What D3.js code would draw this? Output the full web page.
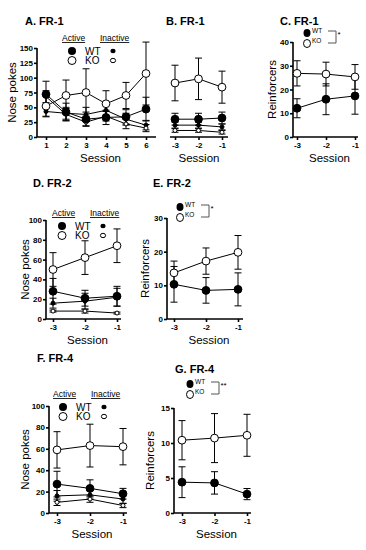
<!DOCTYPE html>
<html>
<head>
<meta charset="utf-8">
<title>FR nose pokes and reinforcers</title>
<style>
  body { margin: 0; background: #fff; }
  text { font-family: "Liberation Sans", Arial, sans-serif; }
</style>
</head>
<body>
<script src="https://cdn.jsdelivr.net/npm/d3@7"></script>
<script>
// ---- data ----
var sessions6 = [1, 2, 3, 4, 5, 6];
var sessions3 = [-3, -2, -1];

// A. FR-1 nose pokes, sessions 1-6
var aWtAct = [72, 42, 30, 33, 34, 47],   aWtActErr = [22, 15, 12, 12, 12, 20];
var aKoAct = [52, 70, 75, 56, 70, 107],  aKoActErr = [18, 26, 40, 22, 22, 53];
var aWtIn  = [43, 40, 38, 45, 30, 20],   aWtInErr  = [8, 10, 12, 10, 10, 8];
var aKoIn  = [68, 38, 25, 35, 22, 15],   aKoInErr  = [10, 10, 6, 8, 8, 6];

// B. FR-1 nose pokes, last 3 sessions
var bWtAct = [30, 30, 32],  bWtActErr = [10, 10, 10];
var bKoAct = [91, 98, 84],  bKoActErr = [30, 35, 27];
var bWtIn  = [20, 20, 17],  bWtInErr  = [5, 5, 5];
var bKoIn  = [11, 11, 8],   bKoInErr  = [3, 3, 3];

// C. FR-1 reinforcers
var cWt = [12.1, 15.9, 17.3], cWtErr = [4, 6.5, 7.7];
var cKo = [26.8, 26.5, 25.3], cKoErr = [5.3, 5, 5.2];

// D. FR-2 nose pokes
var dWtAct = [28, 21, 23],  dWtActErr = [13, 8, 10];
var dKoAct = [50, 62, 74],  dKoActErr = [17, 17, 17];
var dWtIn  = [16, 18, 22],  dWtInErr  = [5, 8, 9];
var dKoIn  = [8, 8, 6],     dKoInErr  = [1, 2, 1];

// E. FR-2 reinforcers
var eWt = [10.3, 8.5, 8.8],  eWtErr = [5.3, 3.8, 4.9];
var eKo = [13.7, 17.2, 19.8], eKoErr = [3.5, 3.9, 5];

// F. FR-4 nose pokes
var fWtAct = [27, 23, 18],  fWtActErr = [12, 8, 5];
var fKoAct = [59, 63, 62],  fKoActErr = [17, 20, 17];
var fWtIn  = [16, 17, 13],  fWtInErr  = [5, 4, 4];
var fKoIn  = [10, 13, 7],   fKoInErr  = [3, 3, 2];

// G. FR-4 reinforcers
var gWt = [4.4, 4.3, 2.7],   gWtErr = [2.2, 1.6, 0.8];
var gKo = [10.4, 10.7, 11.1], gKoErr = [2.8, 3.5, 3];

var ticksA = [0, 25, 50, 75, 100, 125, 150];
var ticksC = [0, 10, 20, 30, 40];
var ticksD = [0, 20, 40, 60, 80, 100];
var ticksE = [0, 10, 20, 30];
var ticksG = [0, 5, 10, 15];

var svg = d3.select("body").append("svg")
  .attr("width", 366)
  .attr("height", 550);

function nosePokeSeries(wa, wae, ka, kae, wi, wie, ki, kie) {
  return [
    {v: wi, e: wie, r: 2, fill: "#000"},
    {v: ki, e: kie, r: 2, fill: "#fff"},
    {v: wa, e: wae, r: 3.9, fill: "#000"},
    {v: ka, e: kae, r: 3.9, fill: "#fff"}
  ];
}

function panel(p) {
  var x = d3.scaleLinear().domain(p.xd).range(p.xr);
  var y = d3.scaleLinear().domain(p.yd).range(p.yr);
  var g = svg.append("g");

  // x axis
  var xa = g.append("g")
    .attr("transform", "translate(0," + p.yr[0] + ")")
    .call(d3.axisBottom(x).tickValues(p.xs).tickSize(3).tickPadding(2)
      .tickFormat(function(d) { return String(d); }));
  xa.select(".domain").attr("d", "M" + p.axX[0] + ",0H" + p.axX[1]);
  xa.selectAll("line, .domain").attr("stroke", "#000").attr("stroke-width", 1.6);
  xa.selectAll("text").attr("font-size", 8).attr("font-weight", "bold")
    .attr("font-family", "Liberation Sans, Arial, sans-serif");

  // y axis
  if (p.yt) {
    var ya = g.append("g")
      .attr("transform", "translate(" + p.axX[0] + ",0)")
      .call(d3.axisLeft(y).tickValues(p.yt).tickSize(3).tickPadding(1));
    ya.select(".domain").attr("d", "M0," + p.yr[0] + "V" + p.yr[1]);
    ya.selectAll("line, .domain").attr("stroke", "#000").attr("stroke-width", 1.6);
    ya.selectAll("text").attr("font-size", 8).attr("font-weight", "bold")
      .attr("font-family", "Liberation Sans, Arial, sans-serif");
    g.append("text")
      .attr("transform", "translate(" + p.ylabX + "," + ((p.yr[0] + p.yr[1]) / 2) + ") rotate(-90)")
      .attr("text-anchor", "middle")
      .attr("font-size", 11.5)
      .text(p.ylab);
  }

  g.append("text")
    .attr("x", (p.axX[0] + p.axX[1]) / 2 + (p.yt ? 4 : 0))
    .attr("y", p.yr[0] + 25)
    .attr("text-anchor", "middle")
    .attr("font-size", 11.5)
    .text("Session");

  g.append("text")
    .attr("x", p.title[0]).attr("y", p.title[1])
    .attr("font-size", 11).attr("font-weight", "bold")
    .text(p.title[2]);

  var line = d3.line()
    .x(function(d, i) { return x(p.xs[i]); })
    .y(function(d) { return y(d); });

  // error bars
  p.series.forEach(function(s) {
    s.v.forEach(function(v, i) {
      var cx = x(p.xs[i]);
      var top = y(v + s.e[i]), bot = y(Math.max(0, v - s.e[i]));
      g.append("line").attr("x1", cx).attr("x2", cx).attr("y1", top).attr("y2", bot)
        .attr("stroke", "#000").attr("stroke-width", 1);
      [top, bot].forEach(function(yy) {
        g.append("line").attr("x1", cx - 3.5).attr("x2", cx + 3.5).attr("y1", yy).attr("y2", yy)
          .attr("stroke", "#000").attr("stroke-width", 1);
      });
    });
  });
  // lines
  p.series.forEach(function(s) {
    g.append("path").attr("d", line(s.v)).attr("fill", "none")
      .attr("stroke", "#000").attr("stroke-width", 1);
  });
  // markers
  p.series.forEach(function(s) {
    g.selectAll(null).data(s.v).enter().append("circle")
      .attr("cx", function(d, i) { return x(p.xs[i]); })
      .attr("cy", function(d) { return y(d); })
      .attr("r", s.r)
      .attr("fill", s.fill)
      .attr("stroke", "#000").attr("stroke-width", 1);
  });
}

function bigLegend(x0, y0) {
  // x0: left of "Active", y0: baseline of "Active"
  var g = svg.append("g");
  g.append("text").attr("x", x0).attr("y", y0).attr("font-size", 8.5).text("Active")
    .attr("text-decoration", "underline");
  g.append("text").attr("x", x0 + 38).attr("y", y0).attr("font-size", 8.5).text("Inactive")
    .attr("text-decoration", "underline");
  g.append("circle").attr("cx", x0 + 10).attr("cy", y0 + 10).attr("r", 4).attr("fill", "#000");
  g.append("circle").attr("cx", x0 + 10).attr("cy", y0 + 19.5).attr("r", 4)
    .attr("fill", "#fff").attr("stroke", "#000").attr("stroke-width", 1);
  g.append("text").attr("x", x0 + 23).attr("y", y0 + 13.5).attr("font-size", 10).text("WT");
  g.append("text").attr("x", x0 + 23).attr("y", y0 + 23).attr("font-size", 10).text("KO");
  g.append("ellipse").attr("cx", x0 + 51).attr("cy", y0 + 10).attr("rx", 2.6).attr("ry", 2.2).attr("fill", "#000");
  g.append("ellipse").attr("cx", x0 + 51).attr("cy", y0 + 19.5).attr("rx", 2.6).attr("ry", 2.2)
    .attr("fill", "#fff").attr("stroke", "#000").attr("stroke-width", 1);
}

function smallLegend(x0, y0, star) {
  // x0: center of symbol, y0: center of WT symbol
  var g = svg.append("g");
  g.append("ellipse").attr("cx", x0).attr("cy", y0).attr("rx", 3.5).attr("ry", 4).attr("fill", "#000");
  g.append("ellipse").attr("cx", x0).attr("cy", y0 + 10.5).attr("rx", 3.5).attr("ry", 4)
    .attr("fill", "#fff").attr("stroke", "#000").attr("stroke-width", 1);
  g.append("text").attr("x", x0 + 5).attr("y", y0 - 0.5).attr("font-size", 6.5).text("WT");
  g.append("text").attr("x", x0 + 5).attr("y", y0 + 10).attr("font-size", 6.5).text("KO");
  var bx = x0 + 21;
  g.append("path").attr("d", "M" + bx + "," + (y0 - 2) + "H" + (bx + 8) + "V" + (y0 + 10) + "H" + bx)
    .attr("fill", "none").attr("stroke", "#555").attr("stroke-width", 1);
  g.append("text").attr("x", bx + 9.5).attr("y", y0 + 4).attr("font-size", 8).text(star);
}

panel({title: [25, 25, "A. FR-1"], xd: [1, 6], xr: [46, 146], axX: [37, 156],
  yd: [0, 150], yr: [137, 48], yt: ticksA, ylab: "Nose pokes", ylabX: 16, xs: sessions6,
  series: nosePokeSeries(aWtAct, aWtActErr, aKoAct, aKoActErr, aWtIn, aWtInErr, aKoIn, aKoInErr)});
bigLegend(62, 41);

panel({title: [166, 25, "B. FR-1"], xd: [-3, -1], xr: [175, 222], axX: [170, 228],
  yd: [0, 150], yr: [137, 48], yt: null, xs: sessions3,
  series: nosePokeSeries(bWtAct, bWtActErr, bKoAct, bKoActErr, bWtIn, bWtInErr, bKoIn, bKoInErr)});

panel({title: [280, 25, "C. FR-1"], xd: [-3, -1], xr: [297, 355], axX: [293, 358],
  yd: [0, 40], yr: [137, 42], yt: ticksC, ylab: "Reinforcers", ylabX: 276, xs: sessions3,
  series: [{v: cWt, e: cWtErr, r: 3.9, fill: "#000"}, {v: cKo, e: cKoErr, r: 3.9, fill: "#fff"}]});
smallLegend(307, 33, "*");

panel({title: [33, 187, "D. FR-2"], xd: [-3, -1], xr: [53, 117], axX: [46, 121],
  yd: [0, 100], yr: [319, 220], yt: ticksD, ylab: "Nose pokes", ylabX: 29, xs: sessions3,
  series: nosePokeSeries(dWtAct, dWtActErr, dKoAct, dKoActErr, dWtIn, dWtInErr, dKoIn, dKoInErr)});
bigLegend(52, 216);

panel({title: [153, 187, "E. FR-2"], xd: [-3, -1], xr: [174, 238], axX: [167, 243],
  yd: [0, 30], yr: [319, 218], yt: ticksE, ylab: "Reinforcers", ylabX: 149, xs: sessions3,
  series: [{v: eWt, e: eWtErr, r: 3.9, fill: "#000"}, {v: eKo, e: eKoErr, r: 3.9, fill: "#fff"}]});
smallLegend(180, 207, "*");

panel({title: [37, 362, "F. FR-4"], xd: [-3, -1], xr: [57, 123], axX: [49, 127],
  yd: [0, 100], yr: [513, 406], yt: ticksD, ylab: "Nose pokes", ylabX: 29, xs: sessions3,
  series: nosePokeSeries(fWtAct, fWtActErr, fKoAct, fKoActErr, fWtIn, fWtInErr, fKoIn, fKoInErr)});
bigLegend(53, 397);

panel({title: [175, 373, "G. FR-4"], xd: [-3, -1], xr: [182, 247], axX: [174, 251],
  yd: [0, 15], yr: [513, 408], yt: ticksG, ylab: "Reinforcers", ylabX: 154, xs: sessions3,
  series: [{v: gWt, e: gWtErr, r: 3.9, fill: "#000"}, {v: gKo, e: gKoErr, r: 3.9, fill: "#fff"}]});
smallLegend(190, 384, "**");
</script>
</body>
</html>
